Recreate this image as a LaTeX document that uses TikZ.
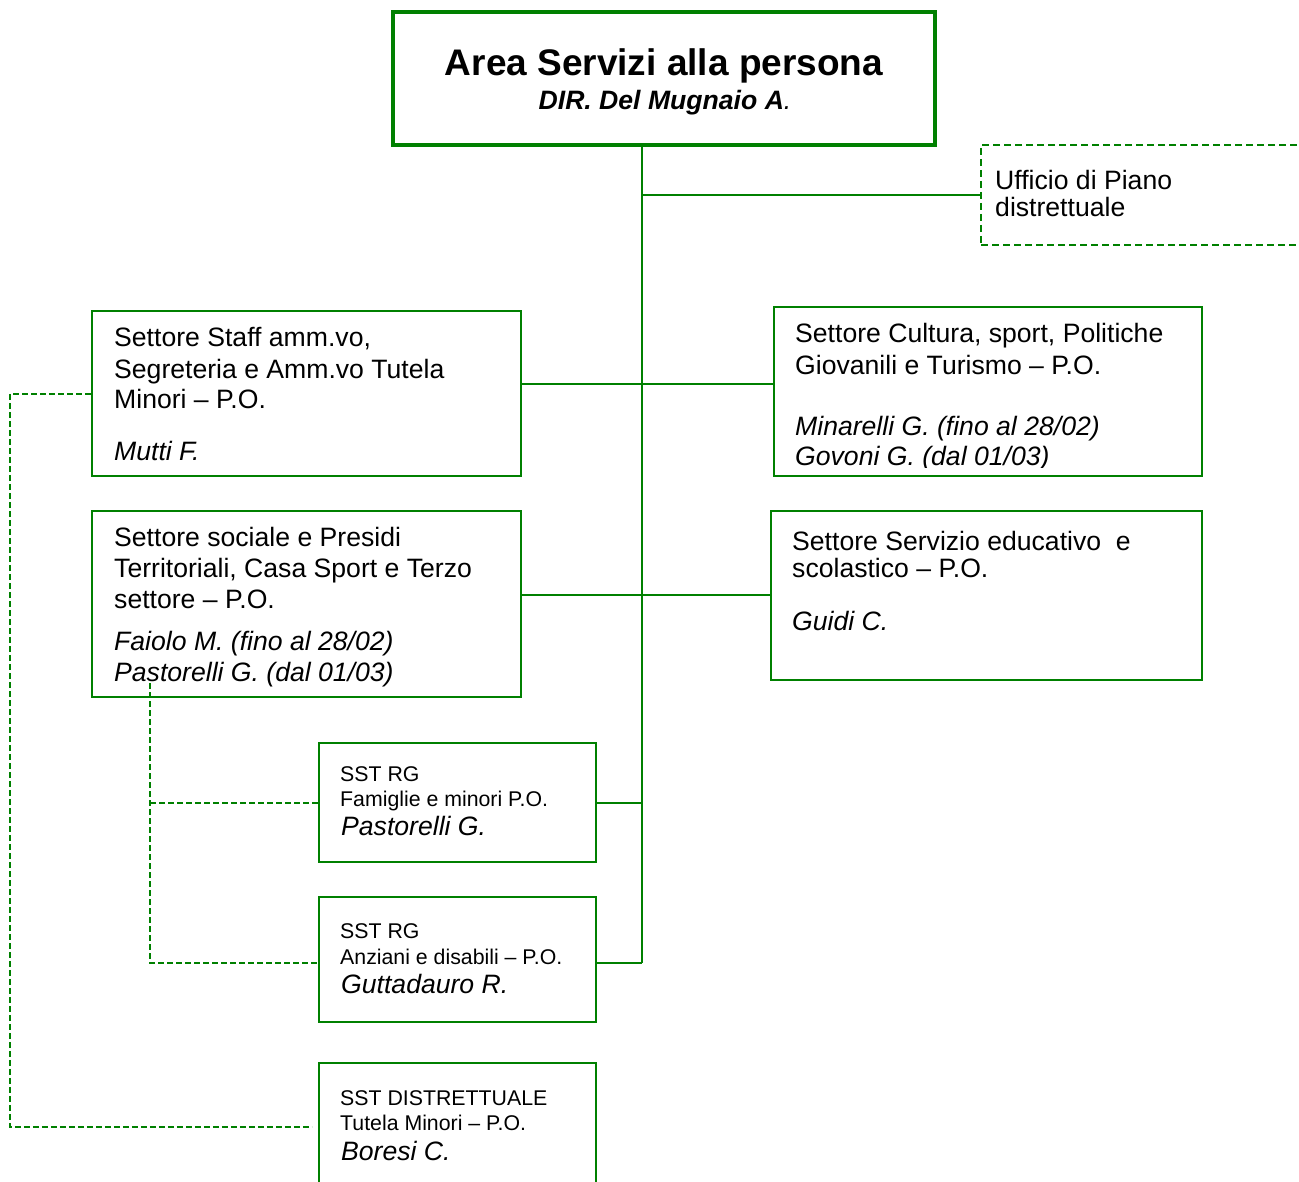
\documentclass[tikz,border=0pt]{standalone}
\usepackage{fontspec}
\setmainfont{Liberation Sans}
\definecolor{ogreen}{RGB}{0,128,0}
\tikzset{
  box/.style={draw=ogreen, line width=2.5pt, inner sep=0pt},
  tbig/.style={inner sep=0pt, anchor=base west, font=\fontsize{26.6}{31}\selectfont},
  tname/.style={inner sep=0pt, anchor=base west, font=\fontsize{26.6}{31}\selectfont\itshape},
  tsmall/.style={inner sep=0pt, anchor=base west, font=\fontsize{21.3}{25}\selectfont},
  conn/.style={draw=ogreen, line width=2pt},
  dconn/.style={draw=ogreen, line width=2pt, dash pattern=on 6pt off 3pt}
}
\begin{document}
\begin{tikzpicture}[x=1pt,y=-1pt]
\clip (0,0) rectangle (1299,1182);
\fill[white] (0,0) rectangle (1299,1182);
% boxes
\node[box, line width=4.5pt, minimum width=542pt, minimum height=133pt] (top) at (664,78.5) {};
\node[box, dash pattern=on 7pt off 4pt, line width=2.8pt, minimum width=339pt, minimum height=100pt] (uff) at (1150.5,195) {};
\node[box, minimum width=429pt, minimum height=165pt] (staff) at (306.5,393.5) {};
\node[box, minimum width=428pt, minimum height=169pt] (cult) at (988,391.5) {};
\node[box, minimum width=429pt, minimum height=186pt] (soc) at (306.5,604) {};
\node[box, minimum width=431pt, minimum height=169pt] (edu) at (986.5,595.5) {};
\node[box, minimum width=277pt, minimum height=119pt] (sst1) at (457.5,802.5) {};
\node[box, minimum width=277pt, minimum height=125pt] (sst2) at (457.5,959.5) {};
\node[box, minimum width=277pt, minimum height=137pt] (sst3) at (457.5,1131.5) {};
% coordinates
\coordinate (tk) at (642,963);
\coordinate (h1) at (642,384);
\coordinate (h2) at (642,595);
\coordinate (d1) at (10,1127);
\coordinate (d2) at (150,683);
\coordinate (d3) at (150,963);
% solid connectors
\draw[conn] (top.south -| tk) -- (tk);
\draw[conn] (uff.west -| tk) -- (uff.west);
\draw[conn] (h1 -| staff.east) -- (h1 -| cult.west);
\draw[conn] (h2 -| soc.east) -- (h2 -| edu.west);
\draw[conn] (sst1.east) -- (sst1.east -| tk);
\draw[conn] (tk -| sst2.east) -- (tk);
% dashed connectors
\draw[dconn] (staff.west) -| (d1) -- ([xshift=-6pt]d1 -| sst3.west);
\draw[dconn] (d2) -- (d3) -- (d3 -| sst2.west);
\draw[dconn] (d2 |- sst1.west) -- (sst1.west);
% title
\node[inner sep=0pt, anchor=base, font=\fontsize{37}{40}\selectfont\bfseries] (t1) at (664,76) {Area Servizi alla persona};
\node[inner sep=0pt, anchor=base, font=\fontsize{26.6}{31}\selectfont\bfseries\itshape] (t2) at (665,110) {DIR. Del Mugnaio A\textmd{.}};
% ufficio
\node[tbig] (u1) at (995,190) {Ufficio di Piano};
\node[tbig] (u2) at (995,217) {distrettuale};
% staff
\node[tbig] (a1) at (114,347) {Settore Staff amm.vo,};
\node[tbig] (a2) at (114,378) {Segreteria e Amm.vo Tutela};
\node[tbig] (a3) at (114,408) {Minori -- P.O.};
\node[tname] (a4) at (114,460) {Mutti F.};
% cultura
\node[tbig] (b1) at (795,343) {Settore Cultura, sport, Politiche};
\node[tbig] (b2) at (795,374) {Giovanili e Turismo -- P.O.};
\node[tname] (b3) at (795,435) {Minarelli G. (fino al 28/02)};
\begin{scope}
\clip (774,307) rectangle (1202,467);
\node[tname] (b4) at (795,465) {Govoni G. (dal 01/03)};
\end{scope}
% sociale
\node[tbig] (c1) at (114,546) {Settore sociale e Presidi};
\node[tbig] (c2) at (114,577) {Territoriali, Casa Sport e Terzo};
\node[tbig] (c3) at (114,608) {settore -- P.O.};
\node[tname] (c4) at (114,650) {Faiolo M. (fino al 28/02)};
\node[tname] (c5) at (114,681) {Pastorelli G. (dal 01/03)};
% educativo
\node[tbig] (e1) at (792,550) {Settore Servizio educativo\ \ e};
\node[tbig] (e2) at (792,577) {scolastico -- P.O.};
\node[tname] (e3) at (792,630) {Guidi C.};
% sst1
\node[tsmall] (f1) at (340,781) {SST RG};
\node[tsmall] (f2) at (340,806) {Famiglie e minori P.O.};
\node[tname] (f3) at (341,835) {Pastorelli G.};
% sst2
\node[tsmall] (g1) at (340,938) {SST RG};
\node[tsmall] (g2) at (340,964) {Anziani e disabili -- P.O.};
\node[tname] (g3) at (341,993) {Guttadauro R.};
% sst3
\node[tsmall] (k1) at (340,1105) {SST DISTRETTUALE};
\node[tsmall] (k2) at (340,1130) {Tutela Minori -- P.O.};
\node[tname] (k3) at (341,1160) {Boresi C.};
\end{tikzpicture}
\end{document}
